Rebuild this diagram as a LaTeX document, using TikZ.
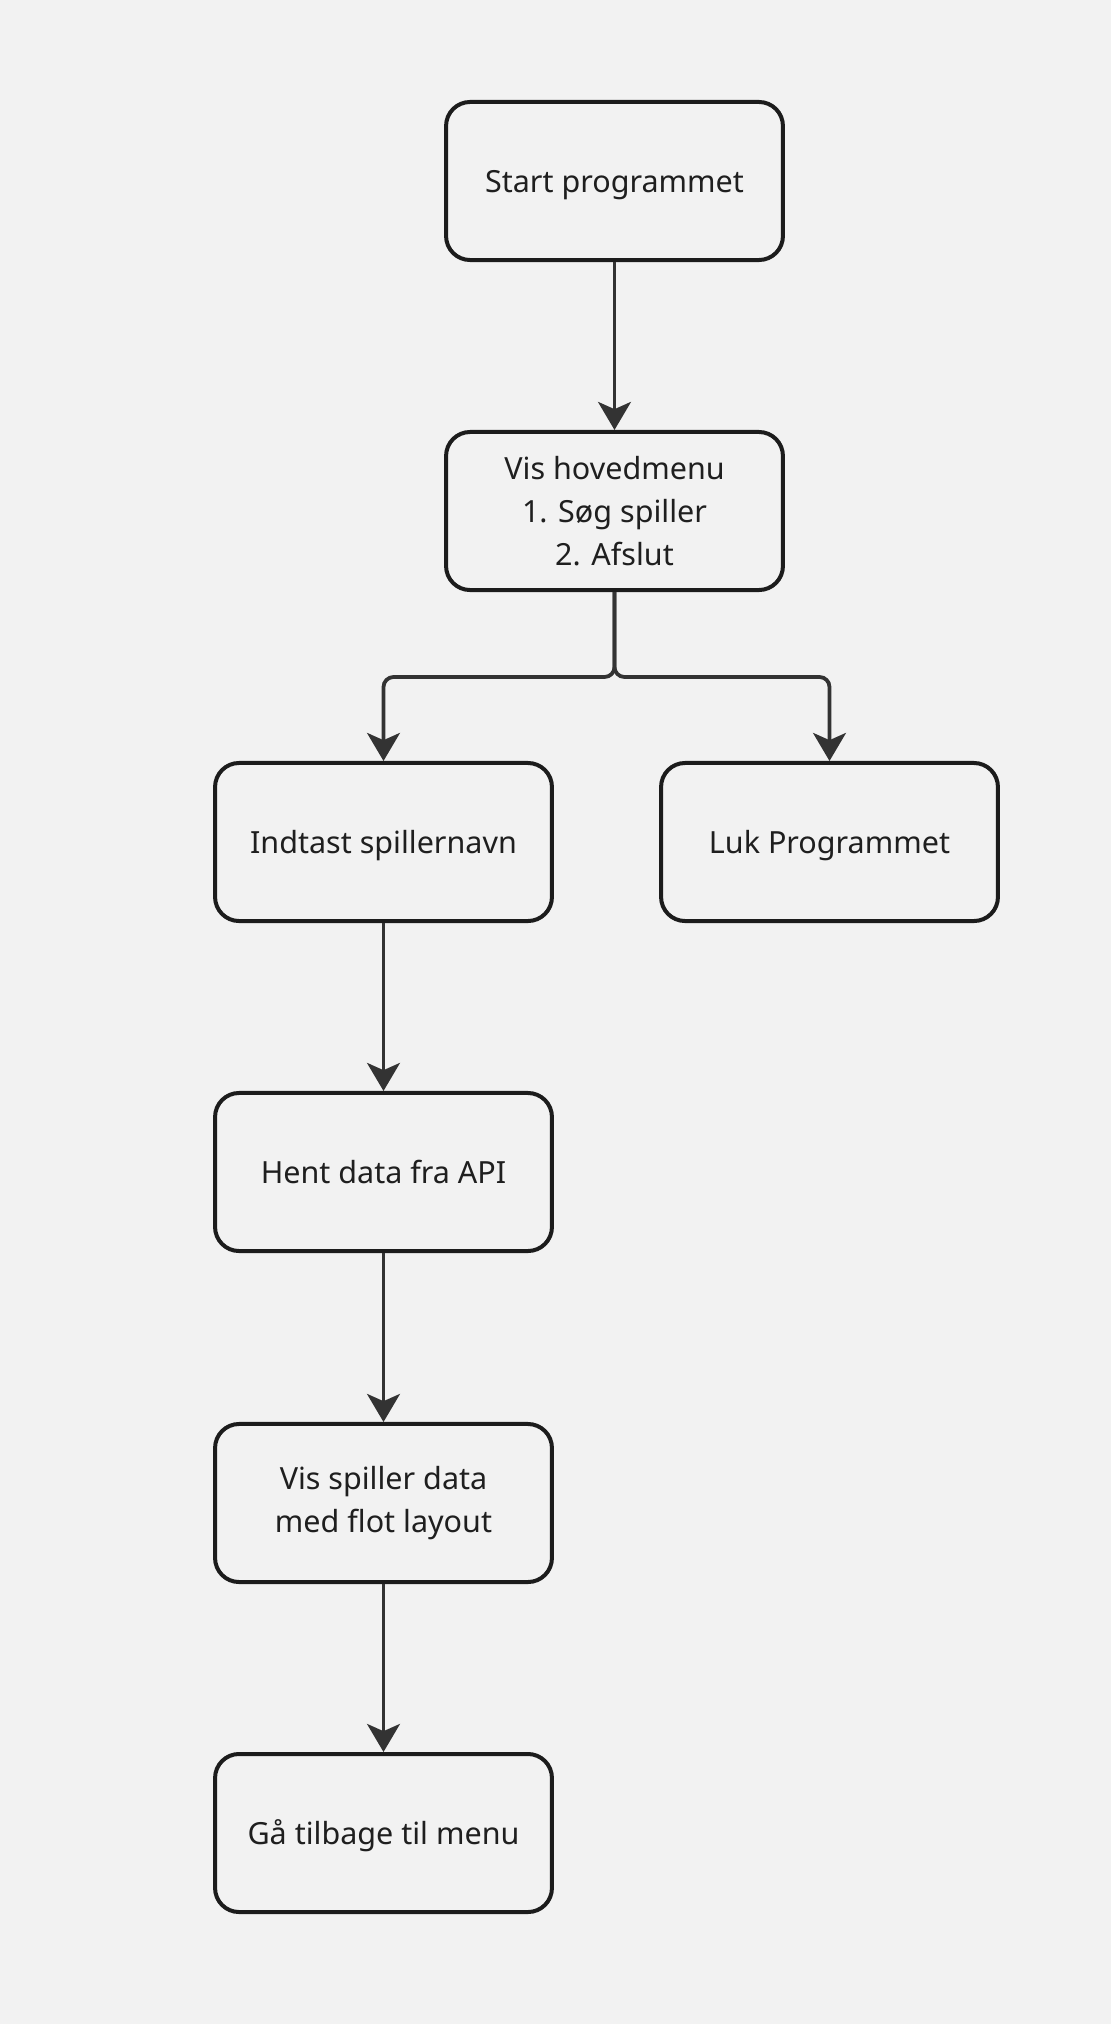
\documentclass[tikz,border=0pt]{standalone}
\usepackage{fontspec}
\setmainfont{Noto Sans}
\usetikzlibrary{arrows.meta}
\definecolor{bgcol}{HTML}{F2F2F2}
\definecolor{boxline}{HTML}{1C1C1C}
\definecolor{arrowline}{HTML}{333333}

\begin{document}
\begin{tikzpicture}[x=0.025cm,y=-0.025cm,
every node/.style = {
shape= rectangle,
draw = boxline,
line width = 0.1cm,
rounded corners = 0.6cm,
fill = bgcol,
minimum width  = 8.42cm,
minimum height = 3.95cm,
align          = center,
font = \fontsize{21.7pt}{30.8pt}\selectfont,
text           = black!88},
one line/.style = {
text height = 21pt,
text depth  = 4pt},
black edge/.style  = {
line width = 0.095cm,
arrowline,
rounded corners = 0.25cm,
-{Stealth[length=0.7cm,width=0.82cm,inset=0.18cm]}}
]
\useasboundingbox[fill=bgcol] (0,0) rectangle (1111,2024);
\node[one line] (nstart) at (614.5,181) {Start programmet};
\node (nmenu) at (614.5,511) {Vis hovedmenu\\1. Søg spiller\\2. Afslut};
\node[one line] (nindtast) at (383.5,842) {Indtast spillernavn};
\node[one line] (nluk) at (829.5,842) {Luk Programmet};
\node[one line] (nhent) at (383.5,1172) {Hent data fra API};
\node (nvis) at (383.5,1503) {Vis spiller data\\med flot layout};
\node[one line] (ntilbage) at (383.5,1833) {Gå tilbage til menu};
\coordinate (nfork) at (614.5,677);
%
\draw[black edge] (nstart)-- (nmenu);
\draw[black edge] (nmenu.south)-- (nfork) -| (nindtast.north);
\draw[black edge] (nmenu.south)-- (nfork) -| (nluk.north);
\draw[black edge] (nindtast)-- (nhent);
\draw[black edge] (nhent)-- (nvis);
\draw[black edge] (nvis)-- (ntilbage);
%
\end{tikzpicture}
\end{document}
